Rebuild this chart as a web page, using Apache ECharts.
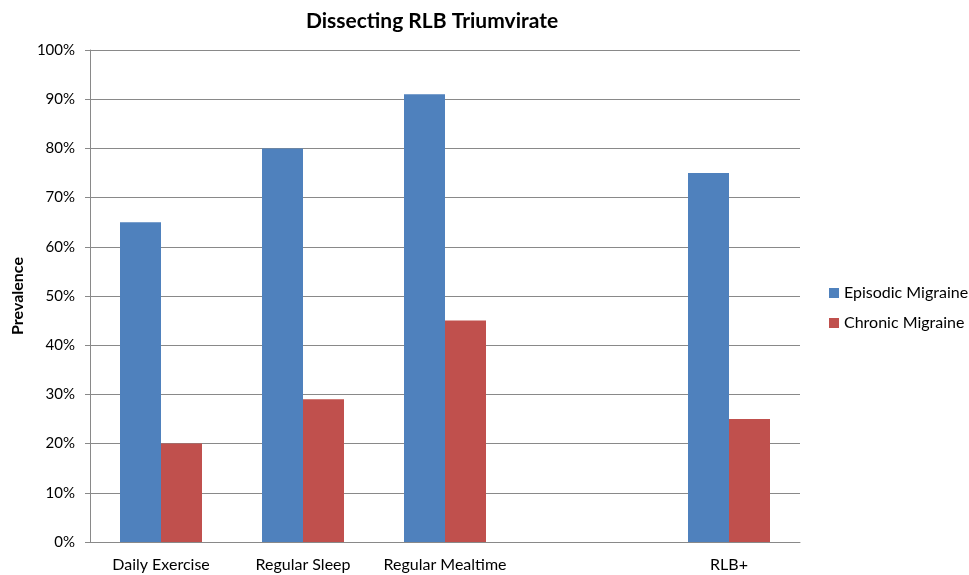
<!DOCTYPE html>
<html>
<head>
<meta charset="utf-8">
<script src="https://cdn.jsdelivr.net/npm/echarts@6/dist/echarts.min.js"></script>
<style>
  html, body { margin: 0; padding: 0; background: #fff; }
  #chart { width: 969px; height: 575px; }
</style>
</head>
<body>
<div id="chart"></div>
<script>
// Habit categories (the blank slot leaves a gap before the combined RLB+ group)
const categories = ['Daily Exercise', 'Regular Sleep', 'Regular Mealtime', '', 'RLB+'];
// Prevalence in percent
const episodic = [65, 80, 91, null, 75];
const chronic = [20, 29, 45, null, 25];
const seriesNames = ['Episodic Migraine', 'Chronic Migraine'];

const font = 'Lato, "Open Sans", sans-serif';
const chart = echarts.init(document.getElementById('chart'));
chart.setOption({
  animation: false,
  title: {
    text: 'Dissecting RLB Triumvirate',
    left: 427, top: 6, textAlign: 'center',
    textStyle: { fontFamily: font, fontSize: 21, fontWeight: 'bold', color: '#000' }
  },
  legend: {
    orient: 'vertical', left: 824, top: 280,
    itemWidth: 10, itemHeight: 10, itemGap: 14,
    icon: 'rect',
    textStyle: { fontFamily: font, fontSize: 16, color: '#000' },
    data: seriesNames
  },
  grid: { left: 90, right: 169, top: 50, bottom: 33, containLabel: false, outerBoundsMode: 'none' },
  xAxis: {
    type: 'category', data: categories,
    axisLine: { lineStyle: { color: '#898989' } },
    axisTick: { show: false },
    axisLabel: { interval: 0, fontFamily: font, fontSize: 16, color: '#000', margin: 15 }
  },
  yAxis: {
    type: 'value', min: 0, max: 100, interval: 10,
    name: 'Prevalence', nameLocation: 'middle', nameGap: 63, nameRotate: 90,
    nameTextStyle: { fontFamily: font, fontSize: 16, fontWeight: 'bold', color: '#000' },
    axisLine: { show: true, lineStyle: { color: '#898989' } },
    axisTick: { show: true, length: 5, lineStyle: { color: '#898989' } },
    axisLabel: { formatter: '{value}%', fontFamily: font, fontSize: 15, color: '#000', margin: 15 },
    splitLine: { lineStyle: { color: '#898989' } }
  },
  series: [
    { name: seriesNames[0], type: 'bar', data: episodic, barWidth: 41, barGap: '0%',
      itemStyle: { color: '#4F81BD' } },
    { name: seriesNames[1], type: 'bar', data: chronic, barWidth: 41,
      itemStyle: { color: '#C0504D' } }
  ]
});
</script>
</body>
</html>
